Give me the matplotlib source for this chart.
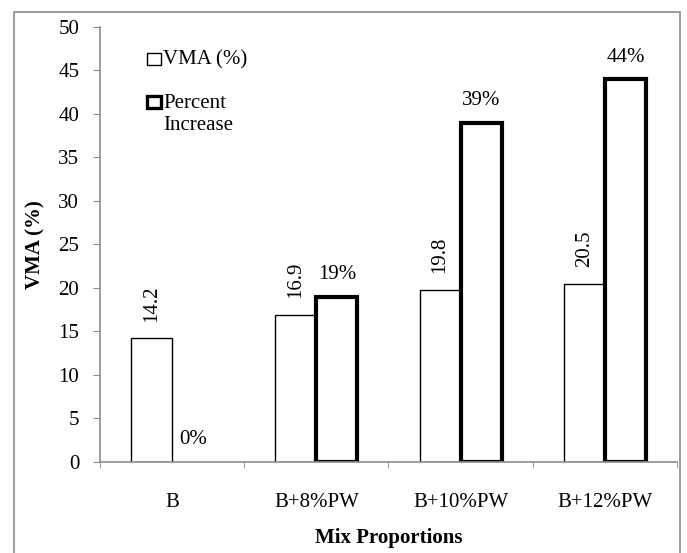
import matplotlib
matplotlib.use("Agg")
import matplotlib.pyplot as plt
from matplotlib.patches import Rectangle
import numpy as np

plt.rcParams['font.family'] = ['Liberation Serif', 'DejaVu Serif']

# data
mixes = ['B', 'B+8%PW', 'B+10%PW', 'B+12%PW']
vma = [14.2, 16.9, 19.8, 20.5]
pct_increase = [0, 19, 39, 44]
pct_labels = ['0%', '19%', '39%', '44%']
series_names = ['VMA (%)', 'Percent\nIncrease']

FS = 15

fig = plt.figure(figsize=(6.87, 5.53), dpi=100)
ax = fig.add_axes([0.1456, 0.1646, 0.8398, 0.7866])

# outer chart frame (open at the bottom, as in the source)
fig.patches.append(Rectangle((14 / 687, -0.05), 666 / 687, 1.05 - 12 / 553,
                             transform=fig.transFigure, fill=False,
                             edgecolor='#8c8c8c', linewidth=1.2))

x = np.arange(len(mixes))
w = 0.285
b1 = ax.bar(x - w / 2, vma, w, color='white', edgecolor='black',
            linewidth=1.0, label=series_names[0])
b2 = ax.bar(x + w / 2, pct_increase, w, color='white', edgecolor='black',
            linewidth=3.0, label=series_names[1])
# zero-height bar is not drawn in the source
for r, v in zip(b2, pct_increase):
    if v == 0:
        r.set_linewidth(0)

for xi, v in zip(x, vma):
    ax.annotate(f'{v:.1f}', (xi - w / 2, v), xytext=(0, 12),
                textcoords='offset points', rotation=90,
                ha='center', va='bottom', fontsize=FS)
for xi, v, lab in zip(x, pct_increase, pct_labels):
    ax.annotate(lab, (xi + w / 2, v), xytext=(0, 9),
                textcoords='offset points', ha='center', va='bottom',
                fontsize=FS)

ax.set_xlim(-0.5, 3.5)
ax.set_ylim(0, 50)
ax.set_yticks(np.arange(0, 51, 5))
ax.set_xticks(x)
ax.set_xticklabels(mixes)
ax.set_xticks(np.arange(-0.5, 3.6, 1), minor=True)
ax.tick_params(axis='x', which='major', length=0, pad=22, labelsize=FS)
ax.tick_params(axis='x', which='minor', length=4, color='#8c8c8c')
ax.tick_params(axis='y', length=5, color='#8c8c8c', labelsize=FS, pad=10)

for s in ['top', 'right']:
    ax.spines[s].set_visible(False)
for s in ['left', 'bottom']:
    ax.spines[s].set_color('#8c8c8c')
    ax.spines[s].set_linewidth(1.2)

ax.set_ylabel('VMA (%)', fontsize=FS, fontweight='bold', labelpad=9)
ax.set_xlabel('Mix Proportions', fontsize=FS, fontweight='bold', labelpad=12)

# legend drawn by hand: the marker sits beside the first line of the label
key_y = [0.9126, 0.8138]
key_lw = [1.0, 2.4]
txt_y = [0.924, 0.799]
for ky, lw, ty, name in zip(key_y, key_lw, txt_y, series_names):
    ax.add_patch(Rectangle((0.0815, ky), 0.024, 0.028, transform=ax.transAxes,
                           facecolor='white', edgecolor='black', linewidth=lw,
                           clip_on=False))
    ax.text(0.109, ty, name, transform=ax.transAxes, ha='left', va='center',
            fontsize=FS)

fig.savefig('out.png', dpi=100)
